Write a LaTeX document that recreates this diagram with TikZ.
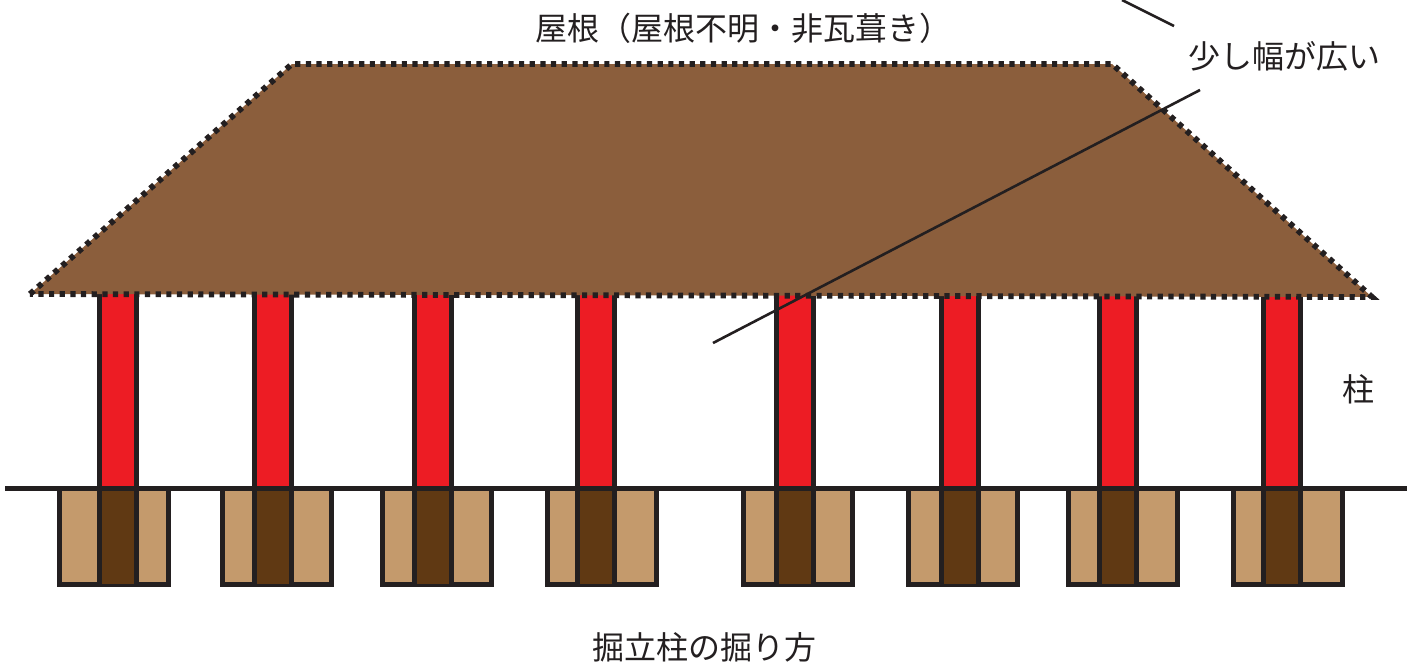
\documentclass[tikz,border=0pt]{standalone}
\usepackage{fontspec}
\setmainfont{Noto Sans CJK JP}
\definecolor{inkblack}{HTML}{231F20}
\definecolor{roofbrown}{HTML}{8B5E3C}
\definecolor{postred}{HTML}{ED1C24}
\definecolor{pitsand}{HTML}{C49A6C}
\definecolor{postdark}{HTML}{603913}
\tikzset{
  heavy/.style={draw=inkblack, line width=2.5pt},
  roofedge/.style={draw=inkblack, line width=2.9pt, dash pattern=on 2.6pt off 2.73pt},
  leader/.style={draw=inkblack, line width=1.3pt},
  label/.style={text=inkblack, font=\fontsize{16pt}{18pt}\selectfont, inner sep=0pt}
}

\begin{document}
\begin{tikzpicture}[x=0.5pt, y=-0.5pt]
  \useasboundingbox (0,0) rectangle (1416,665);

  % Posts and pits
  \foreach \pitx/\postx in {59/99, 222/254, 382/414, 547/577, 743/776, 908/941, 1068/1099, 1233/1263} {
    \fill[pitsand] (\pitx,488) rectangle ++(109,96);
    \draw[heavy] (\pitx,488) -- ++(0,96) -- ++(109,0) -- ++(0,-96);
    \fill[postred] (\postx,292) rectangle (\postx+37,488);
    \fill[postdark] (\postx,488) rectangle (\postx+37,584);
    \draw[heavy] (\postx,292) -- (\postx,586);
    \draw[heavy] (\postx+37,292) -- (\postx+37,586);
  }

  % Ground
  \draw[heavy] (5,488) -- (1407,488);

  % Roof
  \fill[roofbrown] (30,294) -- (292,64) -- (1112,64) -- (1372,297) -- cycle;
  \draw[roofedge] (30,294) -- (292,64) -- (1112,64) -- (1372,297) -- cycle;

  % Leader lines
  \coordinate (widea) at (1122,0);
  \coordinate (wideb) at (1174,26);
  \coordinate (widec) at (1200,90);
  \coordinate (wided) at (713,343);
  \draw[leader] (widea) -- (wideb);
  \draw[leader] (widec) -- (wided);

  % Labels
  \node[label] (rooflabel) at (743,28) {屋根（屋根不明・非瓦葺き）};
  \node[label] (widelabel) at (1284,56) {少し幅が広い};
  \node[label] (postlabel) at (1358,389) {柱};
  \node[label] (pitlabel) at (704,647) {掘立柱の掘り方};
\end{tikzpicture}
\end{document}
